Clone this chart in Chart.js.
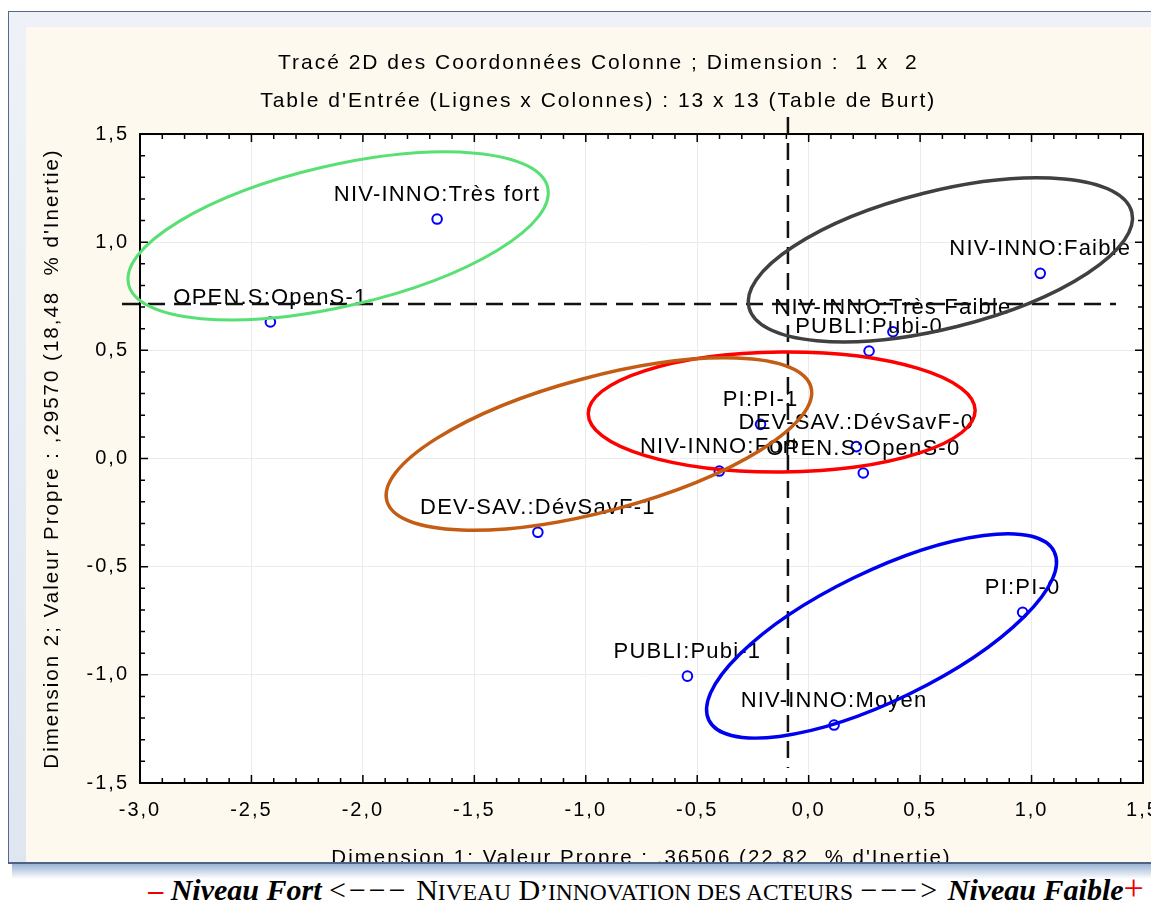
<!DOCTYPE html>
<html>
<head>
<meta charset="utf-8">
<script src="https://cdn.jsdelivr.net/npm/chart.js@4/dist/chart.umd.min.js"></script>
<style>
  body { margin: 0; width: 1151px; height: 903px; overflow: hidden; background: #fff; position: relative; }
  .win { position: absolute; left: 8px; top: 11px; width: 1200px; height: 852px; border: 1px solid #56688c;
         background: linear-gradient(#eef2f8, #dfe6ef); }
  .paper { position: absolute; left: 26px; top: 27px; width: 1200px; height: 840px; background: #fdf9ef; }
  #chart { position: absolute; left: 26px; top: 0; }
  .strip { position: absolute; left: 0; top: 862px; width: 1151px; height: 41px; background: #fff; }
  .strip .edge { position: absolute; left: 8px; top: 0; width: 1160px; height: 2px; background: #4f6185; }
  .strip .shade { position: absolute; left: 12px; top: 2px; width: 1160px; height: 15px;
                  background: linear-gradient(#9ab4d4, rgba(255,255,255,0)); }
  .caption { position: absolute; left: 146px; width: 1000px; top: 873px; line-height: 30px; text-align: center;
             white-space: nowrap; font-family: "Liberation Serif", "Times New Roman", serif; font-size: 30px; color: #000; }
  .caption .red { color: #ee0000; font-weight: bold; }
  .caption .plus { color: #ee0000; font-size: 36px; }
  .caption .arrow { letter-spacing: 3px; }
  .caption .sm { font-size: 23.5px; }
</style>
</head>
<body>
<div class="win"></div>
<div class="paper"></div>
<canvas id="chart" width="1149" height="903"></canvas>
<div class="strip"><div class="edge"></div><div class="shade"></div></div>
<div class="caption"><span class="red">–</span> <b><i>Niveau Fort</i></b> <span class="arrow">&lt;−−−</span> N<span class="sm">IVEAU</span> D<span class="sm">’INNOVATION DES ACTEURS</span> <span class="arrow">−−−&gt;</span> <b><i>Niveau Faible</i></b><span class="plus">+</span></div>

<script>
// Column coordinates (modalities)
const modalities = [
  "NIV-INNO:Très fort", "OPEN.S:OpenS-1", "NIV-INNO:Faible", "NIV-INNO:Très Faible",
  "PUBLI:Pubi-0", "PI:PI-1", "DEV-SAV.:DévSavF-0", "OPEN.S:OpenS-0",
  "NIV-INNO:Fort", "DEV-SAV.:DévSavF-1", "PUBLI:Pubi-1", "PI:PI-0", "NIV-INNO:Moyen"
];
const dim1 = [-1.667, -2.415, 1.039, 0.378, 0.271, -0.216, 0.214, 0.245, -0.401, -1.215, -0.544, 0.960, 0.114];
const dim2 = [1.107, 0.631, 0.856, 0.586, 0.497, 0.158, 0.055, -0.067, -0.058, -0.341, -1.006, -0.711, -1.232];

// Axis ranges and dashed reference lines
const xRange = [-3, 1.5];
const yRange = [-1.5, 1.5];
const refDim1 = -0.093;
const refDim2 = 0.714;

const titleLines = [
  "Tracé 2D des Coordonnées Colonne ; Dimension :  1 x  2",
  "Table d'Entrée (Lignes x Colonnes) : 13 x 13 (Table de Burt)"
];
const xTitle = "Dimension 1: Valeur Propre : ,36506 (22,82  % d'Inertie)";
const yTitle = "Dimension 2; Valeur Propre : ,29570 (18,48  % d'Inertie)";

// Hand drawn groupings (centre in axis units, radii in x units, tilt in degrees)
const groups = [
  { cx: -2.111, cy: 1.029, a: 0.965, b: 0.316, tilt: 13, color: "#58e074", width: 3 },
  { cx: 0.591, cy: 0.918, a: 0.885, b: 0.308, tilt: 14, color: "#404040", width: 3.5 },
  { cx: -0.121, cy: 0.215, a: 0.868, b: 0.269, tilt: 0.5, color: "#ff0000", width: 3.5 },
  { cx: -0.941, cy: 0.067, a: 0.985, b: 0.301, tilt: 15, color: "#c45c14", width: 3.5 },
  { cx: 0.327, cy: -0.820, a: 0.862, b: 0.289, tilt: 26, color: "#0000f0", width: 3.5 }
];

const points = dim1.map((x, i) => ({ x: x, y: dim2[i] }));
const fmt = v => (Math.abs(v) < 1e-9 ? 0 : v).toFixed(1).replace(".", ",");

Chart.defaults.font.family = "'Liberation Sans', Arial, sans-serif";
Chart.defaults.color = "#000";

// wider text like the original
const spacing = {
  id: "spacing",
  beforeUpdate(chart) { chart.ctx.letterSpacing = "2px"; },
  beforeDraw(chart) { chart.ctx.letterSpacing = "2px"; }
};

const frame = {
  id: "frame",
  beforeDraw(chart) {
    const { ctx, chartArea: a } = chart;
    ctx.save();
    ctx.fillStyle = "#fff";
    ctx.fillRect(a.left, a.top, a.right - a.left, a.bottom - a.top);
    ctx.restore();
  },
  beforeDatasetsDraw(chart) {
    const { ctx, chartArea: a, scales } = chart;
    ctx.save();
    ctx.strokeStyle = "#000";
    ctx.lineWidth = 1.5;
    ctx.beginPath();
    for (let i = 0; i <= 45; i++) {
      const px = scales.x.getPixelForValue(xRange[0] + i * 0.1);
      const len = i % 5 === 0 ? 8 : 5;
      ctx.moveTo(px, a.bottom); ctx.lineTo(px, a.bottom - len);
      ctx.moveTo(px, a.top); ctx.lineTo(px, a.top + len);
    }
    for (let i = 0; i <= 30; i++) {
      const py = scales.y.getPixelForValue(yRange[0] + i * 0.1);
      const len = i % 5 === 0 ? 8 : 5;
      ctx.moveTo(a.left, py); ctx.lineTo(a.left + len, py);
      ctx.moveTo(a.right, py); ctx.lineTo(a.right - len, py);
    }
    ctx.stroke();
    ctx.lineWidth = 2;
    ctx.strokeRect(a.left, a.top, a.right - a.left, a.bottom - a.top);
    ctx.restore();
  }
};

const annotations = {
  id: "annotations",
  afterDatasetsDraw(chart) {
    const { ctx, chartArea: a, scales } = chart;
    const meta = chart.getDatasetMeta(0);
    ctx.save();
    ctx.letterSpacing = "1.2px";
    ctx.font = "22px 'Liberation Sans', Arial, sans-serif";
    ctx.fillStyle = "#000";
    ctx.textAlign = "center";
    ctx.textBaseline = "middle";
    meta.data.forEach((el, i) => ctx.fillText(modalities[i], el.x, el.y - 24));

    // dashed reference lines
    const vx = scales.x.getPixelForValue(refDim1);
    const hy = scales.y.getPixelForValue(refDim2);
    ctx.strokeStyle = "#111";
    ctx.lineWidth = 2.5;
    ctx.setLineDash([17, 9]);
    ctx.beginPath();
    ctx.moveTo(a.left - 18, hy); ctx.lineTo(a.right - 27, hy);
    ctx.moveTo(vx, a.top - 17); ctx.lineTo(vx, a.bottom - 15);
    ctx.stroke();
    ctx.setLineDash([]);

    // ellipses
    const kx = scales.x.getPixelForValue(1) - scales.x.getPixelForValue(0);
    groups.forEach(g => {
      ctx.strokeStyle = g.color;
      ctx.lineWidth = g.width;
      ctx.beginPath();
      ctx.ellipse(scales.x.getPixelForValue(g.cx), scales.y.getPixelForValue(g.cy),
        g.a * kx, g.b * kx, -g.tilt * Math.PI / 180, 0, Math.PI * 2);
      ctx.stroke();
    });
    ctx.restore();
  }
};

new Chart(document.getElementById("chart"), {
  type: "scatter",
  data: {
    datasets: [{
      data: points,
      pointRadius: 4.8,
      pointHoverRadius: 4.8,
      pointBorderWidth: 2,
      borderColor: "#0000ff",
      backgroundColor: "rgba(0,0,0,0)"
    }]
  },
  options: {
    responsive: false,
    animation: false,
    events: [],
    layout: { padding: { left: 27.5, right: 32, top: 44, bottom: 20 } },
    plugins: {
      legend: { display: false },
      tooltip: { enabled: false },
      title: {
        display: true,
        text: titleLines,
        color: "#000",
        font: { size: 21, weight: "normal", lineHeight: 1.81 },
        padding: { top: 0, bottom: 14 }
      }
    },
    scales: {
      x: {
        type: "linear",
        min: xRange[0],
        max: xRange[1],
        ticks: { stepSize: 0.5, callback: v => fmt(v), font: { size: 20 }, color: "#000", padding: 15 },
        grid: { color: "#ebebeb", drawTicks: false },
        border: { display: false },
        title: { display: true, text: xTitle, font: { size: 20.5 }, color: "#000", padding: { top: 0, bottom: 12 } },
        afterFit(s) { s.height = 100; }
      },
      y: {
        type: "linear",
        min: yRange[0],
        max: yRange[1],
        ticks: { stepSize: 0.5, callback: v => fmt(v), font: { size: 20 }, color: "#000", padding: 11 },
        grid: { color: "#ebebeb", drawTicks: false },
        border: { display: false },
        title: { display: true, text: yTitle, font: { size: 20.5 }, color: "#000", padding: { top: -13, bottom: 0 } },
        afterFit(s) { s.width = 86.5; }
      }
    }
  },
  plugins: [spacing, frame, annotations]
});
</script>
</body>
</html>
